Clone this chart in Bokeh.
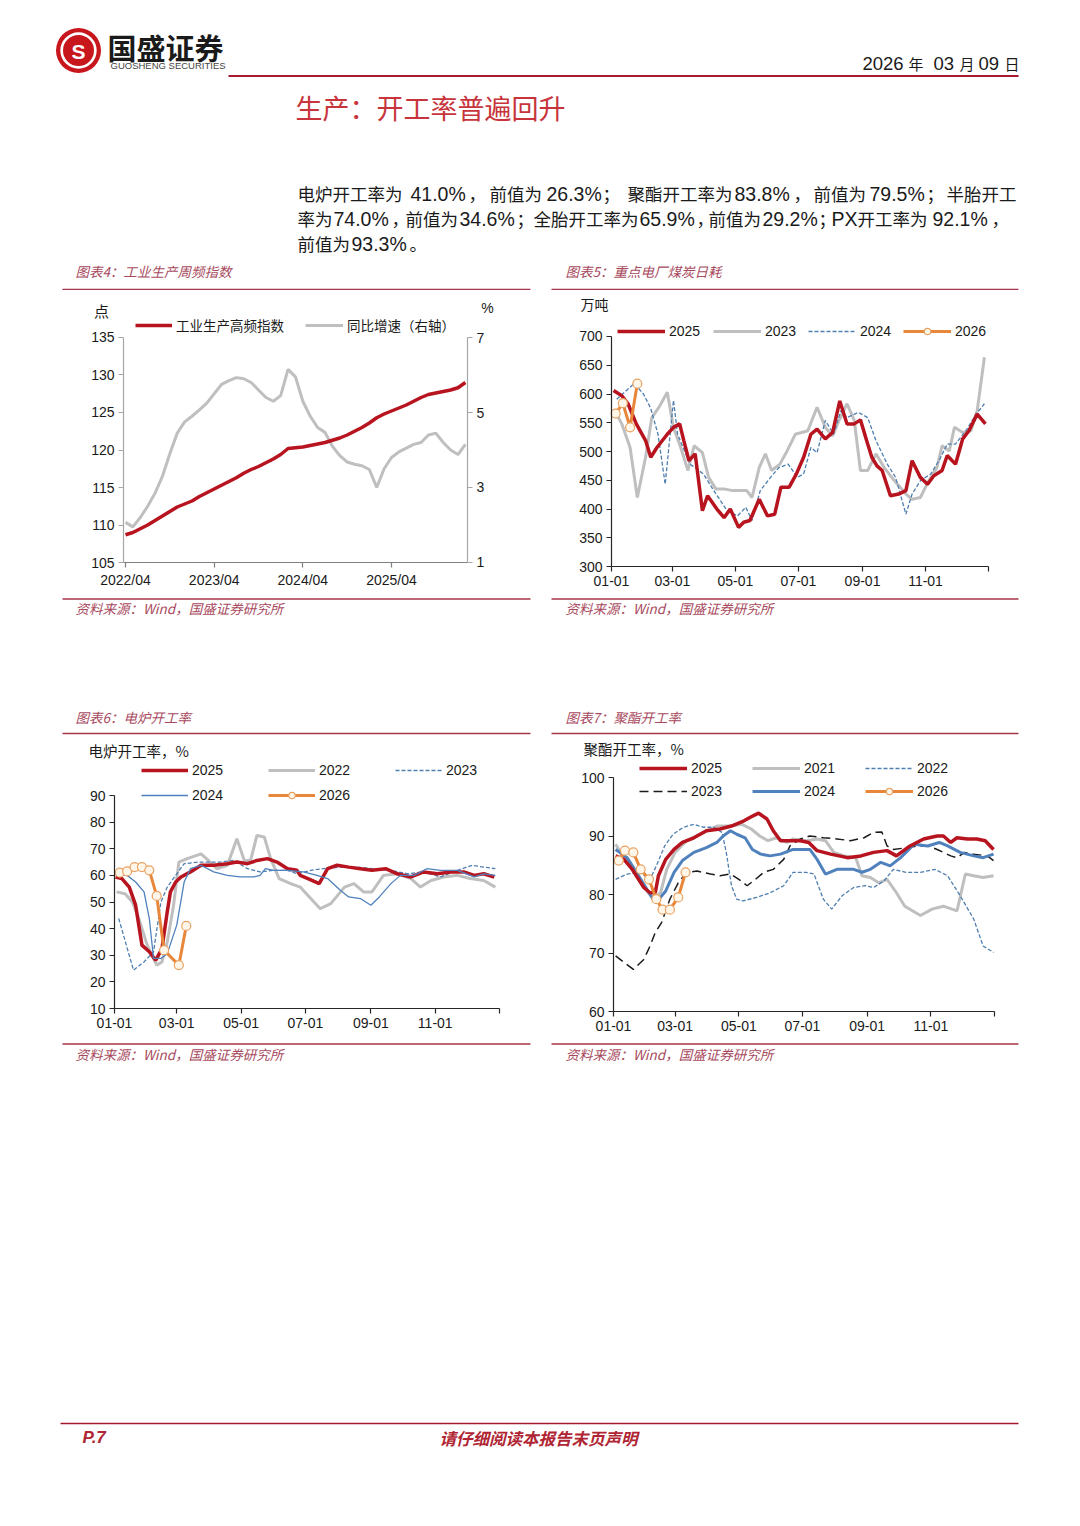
from bokeh.plotting import figure
from bokeh.models import Range1d, LinearAxis, Legend, LegendItem, Label, FixedTicker
from bokeh.layouts import column, row
from bokeh.embed import file_html
from bokeh.resources import INLINE
from bokeh.core.properties import value

CJK = "Noto Sans CJK SC"
LAT = "Liberation Sans"
RULE = "#A8344A"
CAP = "#A84A5E"
C25 = "#B8141F"
CGR = "#BFBFBF"
CDASH = "#4F7FAF"
CBLUE = "#4F81BD"
CORG = "#E8873A"

# ---------------- data ----------------
# Chart 4: industrial production high-frequency index (monthly readings from 2022/04)
ip_tick_pos = [0, 12, 24, 36]
ip_tick_labels = ["2022/04", "2023/04", "2024/04", "2025/04"]
ip_index = [108.7, 109.0, 109.5, 110.0, 110.6, 111.2, 111.8, 112.4, 112.8, 113.2,
            113.8, 114.3, 114.8, 115.3, 115.8, 116.3, 116.9, 117.4, 117.8, 118.3,
            118.8, 119.4, 120.2, 120.3, 120.4, 120.6, 120.8, 121.0, 121.3, 121.6,
            122.0, 122.5, 123.0, 123.6, 124.3, 124.8, 125.2, 125.6, 126.0, 126.5,
            127.0, 127.4, 127.6, 127.8, 128.0, 128.3, 129.0]
ip_yoy = [2.07, 1.95, 2.2, 2.5, 2.85, 3.3, 3.9, 4.45, 4.75, 4.9,
          5.07, 5.25, 5.5, 5.75, 5.85, 5.93, 5.9, 5.8, 5.6, 5.4,
          5.3, 5.45, 6.15, 5.95, 5.3, 4.9, 4.6, 4.47, 4.1, 3.85,
          3.68, 3.62, 3.58, 3.48, 3.0, 3.5, 3.8, 3.95, 4.05, 4.15,
          4.2, 4.4, 4.45, 4.2, 4.0, 3.88, 4.15]
ip_month = list(range(len(ip_index)))
ip_span = (-0.27, 46.28)          # extent of the plotted period (months)

# day-of-year axis (shared by charts 5-7)
md_ticks = [0, 59, 120, 181, 243, 304, 365]
md_labels = ["01-01", "03-01", "05-01", "07-01", "09-01", "11-01", ""]

# Chart 5: coal daily consumption (10k tons)
coal25_d = [2, 10, 16, 24, 33, 38, 44, 54, 60, 66, 70, 75, 81, 88, 93, 102, 109, 115, 123, 128,
            134, 143, 151, 158, 164, 172, 179, 186, 193, 199, 207, 214, 221, 228, 235, 241, 248,
            252, 257, 262, 270, 278, 285, 291, 299, 306, 312, 320, 325, 333, 340, 346, 354, 362]
coal25_v = [606, 597, 583, 548, 519, 490, 507, 530, 542, 548, 519, 484, 496, 397, 423, 400, 385, 400, 368, 377,
            380, 417, 388, 391, 438, 438, 461, 490, 530, 539, 522, 533, 588, 548, 548, 555, 513,
            490, 475, 467, 423, 426, 432, 484, 455, 443, 458, 467, 493, 478, 522, 536, 565, 548]
coal23_d = [4, 10, 18, 25, 33, 39, 46, 54, 60, 67, 74, 80, 88, 94, 101, 109, 117, 125, 131, 136,
            143, 149, 155, 163, 170, 178, 190, 199, 207, 214, 221, 228, 235, 241, 248, 256, 264,
            274, 285, 291, 299, 307, 315, 320, 327, 332, 340, 348, 354, 361]
coal23_v = [568, 548, 507, 420, 490, 559, 577, 603, 542, 507, 467, 510, 498, 455, 435, 435, 432, 432, 432, 420,
            472, 496, 467, 478, 501, 530, 536, 577, 542, 527, 557, 583, 554, 467, 467, 496, 472,
            449, 426, 417, 420, 449, 472, 510, 501, 542, 533, 536, 571, 664]
coal24_d = [5, 22, 31, 38, 45, 52, 60, 64, 76, 89, 99, 112, 122, 130, 136, 144, 154, 162, 171, 180,
            186, 193, 199, 207, 215, 222, 228, 239, 248, 256, 267, 275, 285, 291, 299, 309, 317,
            325, 333, 343, 353, 361]
coal24_v = [591, 618, 600, 575, 530, 443, 589, 530, 478, 461, 432, 397, 388, 403, 380, 432, 455, 472, 478, 455,
            461, 507, 498, 554, 530, 571, 559, 568, 559, 519, 478, 455, 391, 426, 449, 461, 484,
            513, 513, 536, 565, 583]
coal26_d = [4, 11, 18, 25]
coal26_v = [566, 584, 542, 618]

# Chart 6: EAF operating rate (%)
eaf25_d = [1, 7, 14, 20, 26, 33, 39, 45, 50, 53, 58, 63, 72, 82, 94, 107, 116, 126, 135, 145, 154,
           164, 173, 176, 185, 194, 202, 211, 222, 233, 244, 257, 268, 281, 293, 306, 319, 331, 341, 350, 360]
eaf25_v = [59.4, 58.8, 55.6, 48.8, 33.8, 31.3, 28.1, 32.5, 46.3, 53.8, 57.5, 59.4, 61.3, 63.8, 63.8, 64.4,
           65.0, 64.4, 65.6, 66.3, 65.0, 62.5, 61.9, 60.0, 58.5, 56.9, 62.5, 63.8, 63.1, 62.5, 61.9, 62.5,
           60.6, 59.4, 61.3, 60.6, 61.3, 61.3, 60.0, 60.6, 59.4]
eaf22_d = [2, 10, 17, 23, 31, 40, 45, 50, 56, 61, 69, 82, 89, 97, 107, 116, 123, 129, 135, 142, 148,
           156, 167, 176, 186, 195, 205, 218, 227, 236, 244, 255, 268, 281, 290, 300, 312, 325, 337, 350, 361]
eaf22_v = [53.8, 53.1, 50.0, 43.8, 33.8, 26.3, 27.5, 35.0, 48.8, 65.0, 66.3, 68.1, 65.6, 62.5, 63.8, 73.8,
           65.6, 65.6, 75.0, 74.4, 66.3, 58.8, 56.9, 55.6, 51.3, 47.5, 49.4, 55.6, 56.9, 53.8, 53.8, 60.0,
           60.6, 58.8, 55.6, 58.1, 59.4, 60.0, 58.8, 58.1, 55.6]
eaf23_d = [4, 18, 28, 37, 44, 50, 58, 66, 80, 100, 113, 126, 138, 151, 164, 173, 186, 198, 214, 230,
           245, 261, 278, 293, 309, 325, 339, 350, 361]
eaf23_v = [43.8, 24.4, 27.5, 31.3, 50.0, 55.6, 60.0, 64.4, 65.0, 65.0, 65.6, 62.5, 61.3, 61.9, 61.9, 60.6,
           61.9, 62.5, 63.1, 63.1, 62.5, 61.9, 60.6, 61.3, 59.4, 61.9, 63.8, 63.1, 62.5]
eaf24_d = [1, 12, 20, 28, 33, 37, 44, 50, 59, 66, 72, 82, 94, 107, 119, 132, 138, 143, 151, 164, 179,
           192, 202, 214, 222, 233, 243, 251, 262, 271, 284, 296, 309, 325, 341, 350, 361]
eaf24_v = [60.6, 60.0, 57.5, 53.8, 43.8, 28.8, 28.8, 30.6, 41.3, 57.5, 62.5, 63.8, 61.3, 60.0, 59.4, 59.4,
           60.0, 62.5, 61.9, 61.9, 61.3, 60.0, 58.8, 54.4, 51.9, 51.3, 48.8, 51.9, 56.9, 60.0, 60.0, 62.5,
           61.9, 61.9, 59.4, 60.6, 60.0]
eaf26_d = [5, 12, 19, 26, 33, 40, 47, 61, 68]
eaf26_v = [61.0, 61.5, 63.1, 63.1, 61.9, 52.3, 31.9, 26.3, 41.0]

# Chart 7: polyester operating rate (%)
pet25_d = [2, 10, 18, 24, 29, 35, 40, 43, 50, 58, 66, 77, 89, 102, 113, 125, 131, 139, 147, 153, 160,
           169, 179, 187, 195, 208, 224, 237, 249, 262, 271, 284, 297, 310, 316, 323, 329, 339, 348, 356, 364]
pet25_v = [86.6, 86.0, 84.3, 82.6, 81.2, 80.3, 80.3, 83.2, 86.0, 87.7, 88.9, 89.7, 90.9, 91.2, 91.7, 92.6,
           93.2, 93.9, 92.9, 90.9, 89.2, 89.2, 89.2, 88.9, 87.5, 86.9, 86.3, 86.6, 87.2, 87.5, 86.6, 88.3,
           89.5, 90.0, 90.0, 88.9, 89.7, 89.5, 89.5, 89.2, 87.7]
pet21_d = [2, 13, 22, 32, 38, 45, 51, 59, 70, 83, 99, 112, 123, 132, 140, 148, 156, 166, 172, 185, 195,
           203, 211, 221, 232, 238, 246, 254, 262, 271, 279, 294, 305, 316, 329, 337, 345, 354, 364]
pet21_v = [88.6, 85.5, 83.2, 80.6, 79.2, 80.3, 84.3, 87.2, 89.2, 90.3, 91.7, 91.7, 92.0, 91.2, 90.0, 89.2,
           89.7, 88.9, 89.5, 89.2, 89.5, 89.2, 87.2, 86.6, 86.3, 83.2, 82.9, 82.0, 82.6, 80.3, 78.0, 76.4,
           77.5, 78.0, 77.2, 83.5, 83.2, 82.9, 83.2]
pet22_d = [2, 13, 25, 35, 41, 49, 57, 67, 77, 86, 96, 104, 108, 113, 118, 124, 137, 150, 163, 172, 184,
           192, 201, 209, 219, 230, 241, 249, 259, 268, 280, 294, 308, 320, 332, 345, 354, 364]
pet22_v = [82.6, 83.5, 83.8, 82.6, 84.9, 88.3, 90.3, 91.5, 92.0, 91.5, 91.5, 90.6, 87.2, 81.5, 79.2, 78.9,
           79.5, 80.3, 81.5, 83.8, 83.8, 83.5, 79.2, 77.5, 79.8, 81.2, 81.5, 81.2, 82.3, 84.3, 83.8, 83.8,
           84.3, 83.2, 79.8, 75.8, 71.2, 70.1]
pet23_d = [2, 10, 19, 29, 35, 40, 46, 54, 62, 70, 80, 93, 102, 112, 120, 128, 136, 144, 153, 163, 169,
           179, 188, 201, 214, 227, 240, 249, 257, 262, 268, 281, 291, 301, 310, 323, 329, 336, 345, 358, 364]
pet23_v = [69.5, 68.4, 67.2, 68.9, 71.2, 73.5, 75.2, 79.2, 82.0, 83.8, 84.0, 83.5, 83.2, 83.5, 82.6, 81.5,
           82.6, 83.8, 84.3, 86.0, 88.3, 89.5, 90.0, 89.7, 89.5, 89.2, 89.7, 90.6, 90.7, 88.3, 87.7, 88.0,
           88.3, 88.3, 87.7, 86.6, 86.3, 87.2, 86.9, 86.6, 85.8]
pet24_d = [2, 13, 22, 32, 38, 45, 50, 58, 66, 77, 89, 99, 105, 112, 118, 126, 133, 141, 150, 160, 172,
           188, 195, 203, 214, 230, 238, 246, 256, 265, 275, 288, 301, 312, 320, 332, 345, 354, 364]
pet24_v = [87.7, 86.3, 83.8, 80.9, 79.2, 79.5, 80.6, 83.8, 85.8, 87.2, 88.0, 88.9, 90.0, 90.9, 90.3, 89.7,
           87.7, 86.9, 86.6, 86.9, 87.7, 87.7, 86.0, 83.5, 84.3, 84.3, 83.8, 84.3, 85.5, 84.9, 86.3, 88.6,
           88.3, 88.9, 88.3, 87.2, 86.6, 86.3, 86.9]
pet26_d = [5, 11, 19, 26, 34, 41, 47, 54, 62, 69]
pet26_v = [85.8, 87.5, 87.2, 84.3, 82.6, 79.2, 77.4, 77.4, 79.5, 83.8]


# ---------------- helpers ----------------
def strip(y0, y1):
    p = figure(width=1064, height=y1 - y0, x_range=Range1d(0, 1064), y_range=Range1d(y1, y0),
               output_backend="svg", toolbar_location=None, min_border=0,
               x_axis_type=None, y_axis_type=None)
    p.outline_line_color = None
    p.background_fill_color = "white"
    p.border_fill_color = "white"
    return p


def put(p, x, y, s, size, font=CJK, color="#1a1a1a", align="left", style="normal"):
    p.text(x=[x], y=[y], text=[s], text_font=value(font), text_font_size=value(f"{size}px"),
           text_color=color, text_align=align, text_baseline="middle", text_font_style=style)


def rule(p, x0, x1, y, color=RULE, w=1.5):
    p.segment(x0=[x0], y0=[y], x1=[x1], y1=[y], line_color=color, line_width=w)


def chart(w, bl, br, xr, yr):
    p = figure(width=w, height=307, x_range=xr, y_range=yr, output_backend="svg",
               toolbar_location=None, min_border_left=bl, min_border_right=br,
               min_border_top=1, min_border_bottom=1)
    p.grid.visible = False
    p.outline_line_color = None
    p.background_fill_color = "white"
    p.border_fill_color = "white"
    return p


def style_axis(ax, color, ticks, bounds=None, overrides=None, fixed=None):
    ax.axis_line_color = color
    ax.axis_line_width = 1.2
    ax.major_tick_line_color = color
    ax.major_tick_line_width = 1.2
    ax.minor_tick_line_color = None
    ax.major_tick_out = 5
    ax.major_tick_in = 0
    ax.major_label_text_font = LAT
    ax.major_label_text_font_size = "14px"
    ax.major_label_text_color = "#1a1a1a"
    ax.major_label_standoff = 4
    ax.ticker = FixedTicker(ticks=ticks)
    if bounds is not None:
        ax.bounds = bounds
    if overrides is not None:
        ax.major_label_overrides = overrides
    if fixed is not None:
        ax.fixed_location = fixed


def leg(p, renderers, label, vx, vy, gw, font=LAT, size=14):
    lg = Legend(items=[LegendItem(label=label, renderers=renderers)], location=(vx, vy),
                orientation="horizontal", padding=0, margin=0, spacing=0,
                glyph_width=gw, glyph_height=16, label_standoff=4, label_height=16,
                label_text_font=font, label_text_font_size=f"{size}px",
                label_text_color="#1a1a1a", border_line_color=None,
                background_fill_alpha=0)
    p.add_layout(lg)


def unit(p, x, y, s, size=14, align="left", font=CJK):
    p.add_layout(Label(x=x, y=y, x_units="screen", y_units="screen", text=s,
                       text_font=font, text_font_size=f"{size}px", text_color="#1a1a1a",
                       text_align=align, text_baseline="middle"))


def line_w_dots(p, xs, ys):
    r1 = p.line(xs, ys, line_color=CORG, line_width=3)
    r2 = p.scatter(xs, ys, marker="circle", size=9, fill_color="#FFF6EA",
                   line_color="#E9A262", line_width=1.2)
    return [r1, r2]


# ---------------- header strip (page y 0..290) ----------------
A = strip(0, 290)
A.circle(x=[78], y=[50], radius=22.5, fill_color="#C8161D", line_color=None)
A.annulus(x=[78], y=[50], inner_radius=15.5, outer_radius=18.2, fill_color="white", line_color=None)
put(A, 78, 51, "S", 21, font=LAT, color="white", align="center", style="bold")
put(A, 107, 46, "国盛证券", 29, color="#1a1a1a", style="bold")
put(A, 110, 65, "GUOSHENG SECURITIES", 9.5, font=LAT, color="#444444")
for x, s, f, sz in [(862, "2026", LAT, 18.5), (908, "年", CJK, 15), (933, "03", LAT, 18.5),
                    (959, "月", CJK, 15), (978, "09", LAT, 18.5), (1004, "日", CJK, 15)]:
    put(A, x, 63, s, sz, font=f)
rule(A, 228, 1018, 75.5, color="#A5192F", w=2)
put(A, 295, 107, "生产：开工率普遍回升", 27, color="#C7343B")

para = [
    (193, [(297, "电炉开工率为", 0), (410, "41.0%", 1), (468, "，", 0), (489, "前值为", 0),
           (546, "26.3%", 1), (602, "；", 0), (627, "聚酯开工率为", 0), (734, "83.8%", 1),
           (793, "，", 0), (813, "前值为", 0), (869, "79.5%", 1), (926, "；", 0), (946, "半胎开工", 0)]),
    (218, [(297, "率为", 0), (333, "74.0%", 1), (391, "，", 0), (405, "前值为", 0), (459, "34.6%", 1),
           (516, "；", 0), (533, "全胎开工率为", 0), (639, "65.9%", 1), (696, "，", 0), (708, "前值为", 0),
           (762, "29.2%", 1), (818, "；", 0), (831, "PX", 1), (857, "开工率为", 0), (932, "92.1%", 1),
           (991, "，", 0)]),
    (243, [(297, "前值为", 0), (351, "93.3%", 1), (409, "。", 0)]),
]
for y, runs in para:
    for x, s, num in runs:
        if num:
            put(A, x, y, s, 19.5, font=LAT, color="#1a1a1a")
        else:
            put(A, x, y, s, 17.5, font=CJK, color="#1a1a1a")

put(A, 75, 270, "图表4：工业生产周频指数", 13.5, color=CAP, style="italic")
put(A, 565, 270, "图表5：重点电厂煤炭日耗", 13.5, color=CAP, style="italic")
rule(A, 62, 530, 289)
rule(A, 551, 1018, 289)

# ---------------- chart 4 (page y 290..597, frame x 62..500, y 291..596) ----------------
c4 = chart(540, 62, 40, Range1d(-8.526, 50.75), Range1d(100.467, 141.133))
c4.extra_y_ranges = {"yoy": Range1d(0.0933, 8.2267)}
style_axis(c4.yaxis[0], "#A6A6A6", [105, 110, 115, 120, 125, 130, 135], bounds=(105, 135),
           fixed=ip_span[0])
style_axis(c4.xaxis[0], "#7F7F7F", ip_tick_pos, bounds=ip_span, fixed=105,
           overrides={k: v for k, v in zip(ip_tick_pos, ip_tick_labels)})
rax = LinearAxis(y_range_name="yoy")
style_axis(rax, "#A6A6A6", [1, 3, 5, 7], bounds=(1, 7), fixed=ip_span[1])
c4.add_layout(rax, "right")
r_yoy = c4.line(ip_month, ip_yoy, y_range_name="yoy", line_color=CGR, line_width=3)
r_idx = c4.line(ip_month, ip_index, line_color=C25, line_width=3.5)
leg(c4, [r_idx], "工业生产高频指数", 73, 261, 37, font=CJK, size=13.5)
leg(c4, [r_yoy], "同比增速（右轴）", 243, 261, 38, font=CJK, size=13.5)
unit(c4, 39, 286, "点", 15, align="center")
unit(c4, 425, 289, "%", 14, align="center", font=LAT)

# ---------------- chart 5 (frame x 551..1018) ----------------
c5 = chart(524, 11, 46, Range1d(-58.08, 394.0), Range1d(247.83, 778.26))
style_axis(c5.yaxis[0], "#262626", list(range(300, 701, 50)), bounds=(300, 700), fixed=0)
style_axis(c5.xaxis[0], "#262626", md_ticks, bounds=(0, 365), fixed=300,
           overrides={k: v for k, v in zip(md_ticks, md_labels)})
r23 = c5.line(coal23_d, coal23_v, line_color=CGR, line_width=3)
r24 = c5.line(coal24_d, coal24_v, line_color=CDASH, line_width=1.3, line_dash="4 2")
r25 = c5.line(coal25_d, coal25_v, line_color=C25, line_width=3.5)
r26 = line_w_dots(c5, coal26_d, coal26_v)
leg(c5, [r25], "2025", 66, 257, 48)
leg(c5, [r23], "2023", 162, 257, 48)
leg(c5, [r24], "2024", 257, 257, 48)
leg(c5, r26, "2026", 352, 257, 48)
unit(c5, 29, 293, "万吨", 14)

# ---------------- middle strip (page y 597..735) ----------------
C = strip(597, 735)
rule(C, 62, 530, 598.5)
rule(C, 551, 1018, 598.5)
put(C, 75, 607, "资料来源：Wind，国盛证券研究所", 13.5, color=CAP, style="italic")
put(C, 565, 607, "资料来源：Wind，国盛证券研究所", 13.5, color=CAP, style="italic")
put(C, 75, 716, "图表6：电炉开工率", 13.5, color=CAP, style="italic")
put(C, 565, 716, "图表7：聚酯开工率", 13.5, color=CAP, style="italic")
rule(C, 62, 530, 733)
rule(C, 551, 1018, 733)

# ---------------- chart 6 (page y 735..1042, frame x 62..530) ----------------
c6 = chart(540, 62, 10, Range1d(-49.29, 394.3), Range1d(-2.394, 112.16))
style_axis(c6.yaxis[0], "#262626", list(range(10, 91, 10)), bounds=(10, 90), fixed=0)
style_axis(c6.xaxis[0], "#262626", md_ticks, bounds=(0, 365), fixed=10,
           overrides={k: v for k, v in zip(md_ticks, md_labels)})
e22 = c6.line(eaf22_d, eaf22_v, line_color=CGR, line_width=3)
e23 = c6.line(eaf23_d, eaf23_v, line_color=CDASH, line_width=1.3, line_dash="4 2")
e25 = c6.line(eaf25_d, eaf25_v, line_color=C25, line_width=3.5)
e24 = c6.line(eaf24_d, eaf24_v, line_color=CBLUE, line_width=1.3)
e26 = line_w_dots(c6, eaf26_d, eaf26_v)
leg(c6, [e25], "2025", 79, 263, 47)
leg(c6, [e22], "2022", 206, 263, 47)
leg(c6, [e23], "2023", 333, 263, 47)
leg(c6, [e24], "2024", 79, 238, 47)
leg(c6, e26, "2026", 206, 238, 47)
unit(c6, 26, 291, "电炉开工率，%", 14.5)

# ---------------- chart 7 (frame x 551..1018) ----------------
c7 = chart(524, 11, 46, Range1d(-59.39, 387.9), Range1d(54.872, 107.01))
style_axis(c7.yaxis[0], "#262626", [60, 70, 80, 90, 100], bounds=(60, 100), fixed=0)
style_axis(c7.xaxis[0], "#262626", md_ticks, bounds=(0, 365), fixed=60,
           overrides={k: v for k, v in zip(md_ticks, md_labels)})
p21 = c7.line(pet21_d, pet21_v, line_color=CGR, line_width=3)
p22 = c7.line(pet22_d, pet22_v, line_color=CDASH, line_width=1.3, line_dash="4 2")
p23 = c7.line(pet23_d, pet23_v, line_color="#1a1a1a", line_width=1.5, line_dash="9 5")
p24 = c7.line(pet24_d, pet24_v, line_color=CBLUE, line_width=3)
p25 = c7.line(pet25_d, pet25_v, line_color=C25, line_width=3.5)
p26 = line_w_dots(c7, pet26_d, pet26_v)
leg(c7, [p25], "2025", 88, 265, 48)
leg(c7, [p21], "2021", 201, 265, 48)
leg(c7, [p22], "2022", 314, 265, 48)
leg(c7, [p23], "2023", 88, 242, 48)
leg(c7, [p24], "2024", 201, 242, 48)
leg(c7, p26, "2026", 314, 242, 48)
unit(c7, 32, 293, "聚酯开工率，%", 14.5)

# ---------------- bottom strip (page y 1042..1510) ----------------
E = strip(1042, 1510)
rule(E, 62, 530, 1043.5)
rule(E, 551, 1018, 1043.5)
put(E, 75, 1053, "资料来源：Wind，国盛证券研究所", 13.5, color=CAP, style="italic")
put(E, 565, 1053, "资料来源：Wind，国盛证券研究所", 13.5, color=CAP, style="italic")
rule(E, 60, 1018, 1423, color="#A5192F", w=1.5)
put(E, 82, 1437, "P.7", 17, font=LAT, color="#B02533", style="bold italic")
put(E, 538, 1437, "请仔细阅读本报告末页声明", 16.5, color="#B02533", align="center", style="bold italic")

page = column(A, row(c4, c5), C, row(c6, c7), E)
open("out.html", "w").write(file_html(page, INLINE))
